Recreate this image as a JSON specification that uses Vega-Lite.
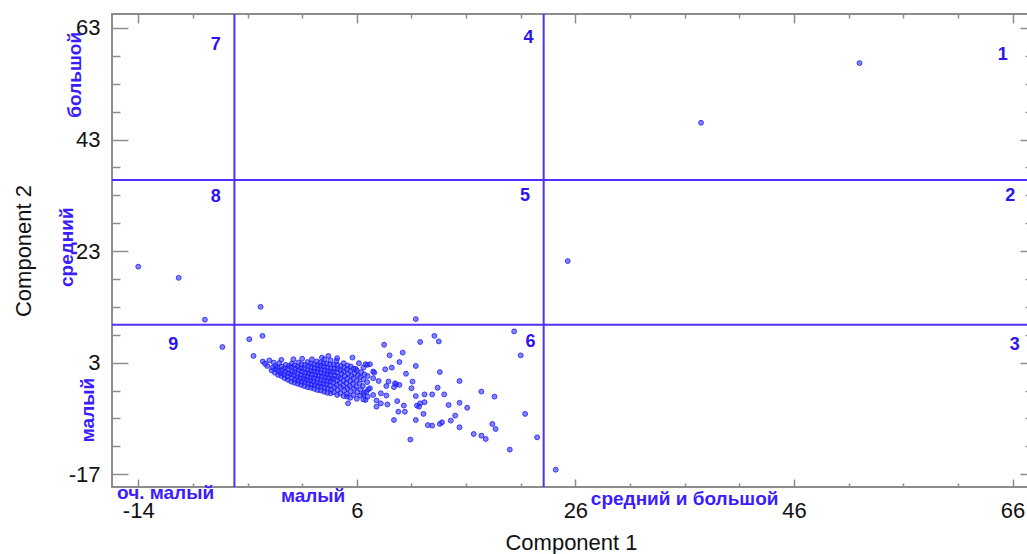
{
 "$schema": "https://vega.github.io/schema/vega-lite/v6.json",
 "width": 918,
 "height": 473,
 "autosize": {"type": "none"},
 "padding": {"left": 112, "top": 14, "right": 0, "bottom": 67},
 "background": "white",
 "config": {"view": {"stroke": "#8c8c8c", "strokeWidth": 2}, "font": "Liberation Sans"},
 "datasets": {
  "pts": [
   {"c1":-14.0,"c2":20.2},{"c1":-10.3,"c2":18.2},{"c1":-7.9,"c2":10.7},{"c1":-6.3,"c2":5.8},{"c1":-2.8,"c2":13.0},{"c1":11.4,"c2":10.8},{"c1":25.3,"c2":21.2},{"c1":37.5,"c2":46.0},{"c1":52.0,"c2":56.7},{"c1":24.2,"c2":-16.2},
   {"c1":-3.84,"c2":7.2},{"c1":-2.63,"c2":7.8},{"c1":-3.45,"c2":4.2},{"c1":8.5,"c2":6.2},{"c1":11.8,"c2":6.7},{"c1":13.1,"c2":7.8},{"c1":13.5,"c2":6.8},{"c1":20.4,"c2":8.6},{"c1":21.0,"c2":4.3},{"c1":9.0,"c2":4.3},{"c1":10.2,"c2":4.8},{"c1":5.6,"c2":3.9},{"c1":3.4,"c2":4.2},{"c1":9.9,"c2":3.1},{"c1":11.4,"c2":2.4},{"c1":8.6,"c2":1.8},{"c1":9.2,"c2":2.1},{"c1":10.5,"c2":1.0},{"c1":13.6,"c2":1.3},{"c1":15.4,"c2":-0.3},{"c1":11.1,"c2":-0.4},{"c1":11.0,"c2":-1.6},{"c1":13.4,"c2":-1.5},{"c1":12.2,"c2":-2.7},{"c1":12.9,"c2":-2.7},{"c1":14.0,"c2":-2.7},{"c1":17.4,"c2":-2.2},{"c1":18.6,"c2":-3.1},{"c1":11.4,"c2":-3.0},{"c1":14.4,"c2":-4.6},{"c1":15.4,"c2":-4.2},{"c1":16.1,"c2":-5.1},{"c1":21.4,"c2":-6.2},{"c1":22.5,"c2":-10.4},{"c1":20.0,"c2":-12.6},{"c1":10.9,"c2":-10.8},{"c1":9.4,"c2":-7.3},{"c1":11.4,"c2":-7.3},{"c1":12.5,"c2":-8.2},{"c1":13.6,"c2":-8.0},{"c1":14.6,"c2":-7.4},{"c1":15.0,"c2":-6.5},{"c1":15.4,"c2":-8.6},{"c1":16.7,"c2":-9.8},{"c1":17.4,"c2":-10.1},{"c1":17.8,"c2":-10.7},{"c1":18.4,"c2":-8.0},{"c1":18.7,"c2":-8.9},{"c1":11.5,"c2":-4.7},{"c1":10.3,"c2":-4.7},{"c1":9.8,"c2":-5.8},{"c1":11.7,"c2":-4.9},{"c1":9.7,"c2":-3.9},{"c1":8.8,"c2":-4.5},{"c1":8.2,"c2":-4.3},{"c1":7.8,"c2":-3.8},{"c1":7.5,"c2":-2.8},{"c1":6.6,"c2":-2.7},{"c1":6.8,"c2":-3.7},{"c1":5.2,"c2":-4.3},{"c1":5.1,"c2":-3.1},{"c1":8.7,"c2":-1.2},{"c1":9.6,"c2":-0.9},{"c1":8.9,"c2":-0.4},{"c1":8.0,"c2":-0.3},{"c1":7.6,"c2":1.2},{"c1":6.96,"c2":2.6},{"c1":5.9,"c2":1.9},
   {"c1":6.8,"c2":2.7},{"c1":7.2,"c2":2.7},{"c1":6.6,"c2":2.1},{"c1":7.5,"c2":1.4},{"c1":7.5,"c2":0.2},{"c1":9.5,"c2":-0.7},{"c1":9.9,"c2":-1.0},{"c1":9.4,"c2":-1.4},{"c1":8.2,"c2":-2.5},{"c1":8.7,"c2":-2.9},{"c1":6.9,"c2":-2.2},{"c1":7.2,"c2":-1.6},{"c1":7.8,"c2":-4.9},{"c1":10.4,"c2":-5.8},{"c1":12.1,"c2":-6.2},{"c1":11.8,"c2":-4.3},{"c1":12.2,"c2":-4.1},{"c1":13.8,"c2":-7.7},{"c1":12.9,"c2":-8.3},
   {"c1":-2.6,"c2":3.2},{"c1":-2.0,"c2":3.4},{"c1":-1.6,"c2":3.0},{"c1":-0.9,"c2":3.5},{"c1":0.2,"c2":3.6},{"c1":1.0,"c2":3.7},{"c1":1.9,"c2":3.6},{"c1":2.8,"c2":3.9},{"c1":4.2,"c2":3.8},{"c1":6.2,"c2":2.9},{"c1":-2.2,"c2":2.4},{"c1":-2.4,"c2":2.8},
   {"c1":-1.8,"c2":1.6},{"c1":-1.7,"c2":2.1},{"c1":-1.5,"c2":1.2},{"c1":-1.4,"c2":1.8},{"c1":-1.45,"c2":2.4},{"c1":-1.2,"c2":0.8},{"c1":-1.15,"c2":1.5},{"c1":-1.25,"c2":2.1},{"c1":-1.1,"c2":2.9},{"c1":-0.9,"c2":0.6},{"c1":-0.95,"c2":1.1},{"c1":-0.85,"c2":1.7},{"c1":-0.9,"c2":2.3},{"c1":-0.6,"c2":0.2},{"c1":-0.65,"c2":0.9},{"c1":-0.55,"c2":1.4},{"c1":-0.6,"c2":2.0},{"c1":-0.5,"c2":2.6},{"c1":-0.3,"c2":-0.1},{"c1":-0.35,"c2":0.5},{"c1":-0.25,"c2":1.1},{"c1":-0.3,"c2":1.8},{"c1":-0.2,"c2":2.4},{"c1":0.0,"c2":-0.4},{"c1":0.05,"c2":0.3},{"c1":-0.05,"c2":0.9},{"c1":0.1,"c2":1.5},{"c1":0.0,"c2":2.2},{"c1":0.05,"c2":2.8},{"c1":0.3,"c2":-0.6},{"c1":0.35,"c2":0.0},{"c1":0.25,"c2":0.7},{"c1":0.3,"c2":1.3},{"c1":0.4,"c2":1.9},{"c1":0.3,"c2":2.5},{"c1":0.6,"c2":-0.8},{"c1":0.65,"c2":-0.2},{"c1":0.55,"c2":0.4},{"c1":0.6,"c2":1.0},{"c1":0.7,"c2":1.7},{"c1":0.6,"c2":2.3},{"c1":0.65,"c2":3.0},{"c1":0.9,"c2":-1.0},{"c1":0.95,"c2":-0.4},{"c1":0.85,"c2":0.2},{"c1":0.9,"c2":0.8},{"c1":1.0,"c2":1.4},{"c1":0.9,"c2":2.0},{"c1":0.95,"c2":2.7},{"c1":1.2,"c2":-1.2},{"c1":1.25,"c2":-0.5},{"c1":1.15,"c2":0.1},{"c1":1.2,"c2":0.6},{"c1":1.3,"c2":1.2},{"c1":1.2,"c2":1.9},{"c1":1.25,"c2":2.6},{"c1":1.5,"c2":-1.4},{"c1":1.55,"c2":-0.7},{"c1":1.45,"c2":-0.1},{"c1":1.5,"c2":0.5},{"c1":1.6,"c2":1.1},{"c1":1.5,"c2":1.7},{"c1":1.55,"c2":2.4},{"c1":1.5,"c2":3.1},{"c1":1.8,"c2":-1.5},{"c1":1.85,"c2":-0.9},{"c1":1.75,"c2":-0.2},{"c1":1.8,"c2":0.3},{"c1":1.9,"c2":0.9},{"c1":1.8,"c2":1.5},{"c1":1.85,"c2":2.2},{"c1":1.8,"c2":2.8},{"c1":2.1,"c2":-1.7},{"c1":2.15,"c2":-1.0},{"c1":2.05,"c2":-0.4},{"c1":2.1,"c2":0.2},{"c1":2.2,"c2":0.8},{"c1":2.1,"c2":1.4},{"c1":2.15,"c2":2.0},{"c1":2.1,"c2":2.7},{"c1":2.4,"c2":-1.9},{"c1":2.45,"c2":-1.2},{"c1":2.35,"c2":-0.6},{"c1":2.4,"c2":0.1},{"c1":2.5,"c2":0.7},{"c1":2.4,"c2":1.3},{"c1":2.45,"c2":1.9},{"c1":2.4,"c2":2.5},{"c1":2.35,"c2":3.2},{"c1":2.7,"c2":-2.0},{"c1":2.75,"c2":-1.3},{"c1":2.65,"c2":-0.7},{"c1":2.7,"c2":-0.1},{"c1":2.8,"c2":0.5},{"c1":2.7,"c2":1.2},{"c1":2.75,"c2":1.8},{"c1":2.7,"c2":2.4},{"c1":2.65,"c2":3.0},{"c1":3.0,"c2":-2.2},{"c1":3.05,"c2":-1.5},{"c1":2.95,"c2":-0.8},{"c1":3.0,"c2":-0.2},{"c1":3.1,"c2":0.4},{"c1":3.0,"c2":1.0},{"c1":3.05,"c2":1.6},{"c1":3.0,"c2":2.3},{"c1":2.95,"c2":2.9},{"c1":3.05,"c2":3.6},{"c1":3.3,"c2":-2.4},{"c1":3.35,"c2":-1.6},{"c1":3.25,"c2":-0.9},{"c1":3.3,"c2":-0.3},{"c1":3.4,"c2":0.3},{"c1":3.3,"c2":0.9},{"c1":3.35,"c2":1.5},{"c1":3.3,"c2":2.1},{"c1":3.25,"c2":2.8},{"c1":3.6,"c2":-2.5},{"c1":3.65,"c2":-1.8},{"c1":3.55,"c2":-1.1},{"c1":3.6,"c2":-0.4},{"c1":3.7,"c2":0.2},{"c1":3.6,"c2":0.8},{"c1":3.65,"c2":1.4},{"c1":3.6,"c2":2.0},{"c1":3.55,"c2":2.7},{"c1":3.6,"c2":3.4},{"c1":3.9,"c2":-2.3},{"c1":3.95,"c2":-1.4},{"c1":3.85,"c2":-0.6},{"c1":3.9,"c2":0.1},{"c1":4.0,"c2":0.7},{"c1":3.9,"c2":1.3},{"c1":3.95,"c2":2.0},{"c1":3.9,"c2":2.6},{"c1":4.2,"c2":-2.8},{"c1":4.25,"c2":-1.9},{"c1":4.15,"c2":-1.0},{"c1":4.2,"c2":-0.2},{"c1":4.3,"c2":0.5},{"c1":4.2,"c2":1.2},{"c1":4.25,"c2":1.9},{"c1":4.2,"c2":2.6},{"c1":4.15,"c2":3.3},{"c1":4.5,"c2":-2.5},{"c1":4.55,"c2":-1.5},{"c1":4.45,"c2":-0.6},{"c1":4.5,"c2":0.2},{"c1":4.6,"c2":1.0},{"c1":4.5,"c2":1.7},{"c1":4.55,"c2":2.4},{"c1":4.8,"c2":-3.0},{"c1":4.85,"c2":-2.0},{"c1":4.75,"c2":-1.1},{"c1":4.8,"c2":-0.2},{"c1":4.9,"c2":0.6},{"c1":4.8,"c2":1.4},{"c1":4.85,"c2":2.1},{"c1":4.8,"c2":2.9},{"c1":5.1,"c2":-2.6},{"c1":5.15,"c2":-1.6},{"c1":5.05,"c2":-0.7},{"c1":5.1,"c2":0.1},{"c1":5.2,"c2":1.0},{"c1":5.1,"c2":1.8},{"c1":5.15,"c2":2.5},{"c1":5.4,"c2":-3.3},{"c1":5.45,"c2":-2.2},{"c1":5.35,"c2":-1.2},{"c1":5.4,"c2":-0.3},{"c1":5.5,"c2":0.6},{"c1":5.4,"c2":1.5},{"c1":5.45,"c2":2.3},{"c1":5.7,"c2":-2.8},{"c1":5.75,"c2":-1.7},{"c1":5.65,"c2":-0.8},{"c1":5.7,"c2":0.2},{"c1":5.8,"c2":1.1},{"c1":5.7,"c2":1.9},{"c1":6.0,"c2":-3.5},{"c1":6.05,"c2":-2.3},{"c1":5.95,"c2":-1.3},{"c1":6.0,"c2":-0.3},{"c1":6.1,"c2":0.7},{"c1":6.0,"c2":1.6},{"c1":6.3,"c2":-2.9},{"c1":6.35,"c2":-1.8},{"c1":6.25,"c2":-0.7},{"c1":6.3,"c2":0.4},{"c1":6.4,"c2":1.3},{"c1":6.6,"c2":-3.6},{"c1":6.65,"c2":-2.4},{"c1":6.55,"c2":-1.2},{"c1":6.6,"c2":0.0},{"c1":6.7,"c2":0.9},{"c1":7.0,"c2":-3.1},{"c1":7.05,"c2":-1.8},{"c1":6.95,"c2":-0.5},{"c1":7.0,"c2":0.6}
  ],
  "vlines": [{"v": -5.2}, {"v": 23.1}],
  "hlines": [{"h": 35.75}, {"h": 9.77}],
  "quads": [
   {"c1":-6.9,"c2":59.9,"n":"7"},{"c1":21.7,"c2":61.2,"n":"4"},{"c1":65.1,"c2":58.2,"n":"1"},
   {"c1":-6.9,"c2":32.7,"n":"8"},{"c1":21.4,"c2":32.9,"n":"5"},{"c1":65.8,"c2":32.9,"n":"2"},
   {"c1":-10.8,"c2":6.2,"n":"9"},{"c1":21.9,"c2":6.7,"n":"6"},{"c1":66.2,"c2":6.2,"n":"3"}
  ],
  "sideV": [
   {"c1":-19.8,"c2":54.6,"t":"большой"},{"c1":-20.5,"c2":23.7,"t":"средний"},{"c1":-18.6,"c2":-5.5,"t":"малый"}
  ],
  "sideH": [
   {"c1":-11.5,"c2":-20.4,"t":"оч. малый"},{"c1":2.0,"c2":-21.0,"t":"малый"},{"c1":36.0,"c2":-21.5,"t":"средний и большой"}
  ]
 },
 "layer": [
  {
   "data": {"name": "pts"},
   "mark": {"type": "point", "filled": true, "size": 24, "color": "#3030ff", "fillOpacity": 0.6, "stroke": "#1a1aff", "strokeWidth": 0.9, "strokeOpacity": 0.9},
   "encoding": {
    "x": {"field": "c1", "type": "quantitative",
     "scale": {"domain": [-16.4, 67.6], "nice": false, "zero": false},
     "axis": {"orient": "bottom", "values": [-14,-9,-4,1,6,11,16,21,26,31,36,41,46,51,56,61,66],
      "labelExpr": "(datum.value + 14) % 20 == 0 ? replace(datum.label, '−', '-') : ''",
      "tickSize": {"condition": {"test": "(datum.value + 14) % 20 == 0", "value": -8}, "value": -4},
      "tickColor": "#8c8c8c", "tickWidth": 1.5, "domain": false, "grid": false,
      "labelFont": "Liberation Sans", "labelFontSize": 22, "labelColor": "#111", "labelPadding": 21,
      "labelFlush": false, "labelOverlap": false,
      "title": "Component 1", "titleFont": "Liberation Sans", "titleFontSize": 22, "titleFontWeight": "normal", "titleColor": "#111", "titlePadding": 7}},
    "y": {"field": "c2", "type": "quantitative",
     "scale": {"domain": [-19.3, 65.5], "nice": false, "zero": false},
     "axis": {"orient": "left", "values": [-17,-12,-7,-2,3,8,13,18,23,28,33,38,43,48,53,58,63],
      "labelExpr": "(datum.value + 17) % 20 == 0 ? replace(datum.label, '−', '-') : ''",
      "tickSize": {"condition": {"test": "(datum.value + 17) % 20 == 0", "value": -16}, "value": -8},
      "tickColor": "#8c8c8c", "tickWidth": 1.5, "domain": false, "grid": false,
      "labelFont": "Liberation Sans", "labelFontSize": 22, "labelColor": "#111", "labelPadding": 28,
      "labelFlush": false, "labelOverlap": false,
      "title": "Component 2", "titleFont": "Liberation Sans", "titleFontSize": 22, "titleFontWeight": "normal", "titleColor": "#111", "titlePadding": 33}}
   }
  },
  {
   "data": {"name": "vlines"},
   "mark": {"type": "rule", "color": "#5030ff", "strokeWidth": 2},
   "encoding": {"x": {"field": "v", "type": "quantitative", "axis": null}}
  },
  {
   "data": {"name": "hlines"},
   "mark": {"type": "rule", "color": "#5030ff", "strokeWidth": 2},
   "encoding": {"y": {"field": "h", "type": "quantitative", "axis": null}}
  },
  {
   "data": {"name": "quads"},
   "mark": {"type": "text", "color": "#2e14ee", "fontWeight": "bold", "fontSize": 18, "font": "Liberation Sans", "align": "center", "baseline": "middle"},
   "encoding": {
    "x": {"field": "c1", "type": "quantitative",
     "axis": {"orient": "top", "values": [-14,-9,-4,1,6,11,16,21,26,31,36,41,46,51,56,61,66], "labels": false,
      "tickSize": {"condition": {"test": "(datum.value + 14) % 20 == 0", "value": -9}, "value": -4},
      "tickColor": "#8c8c8c", "tickWidth": 1.5, "domain": false, "grid": false, "title": null}},
    "y": {"field": "c2", "type": "quantitative",
     "axis": {"orient": "right", "values": [-17,-12,-7,-2,3,8,13,18,23,28,33,38,43,48,53,58,63], "labels": false,
      "tickSize": {"condition": {"test": "(datum.value + 17) % 20 == 0", "value": -10}, "value": -5},
      "tickColor": "#8c8c8c", "tickWidth": 1.5, "domain": false, "grid": false, "title": null}},
    "text": {"field": "n"}
   }
  },
  {
   "data": {"name": "sideV"},
   "mark": {"type": "text", "color": "#3a1cff", "fontWeight": "bold", "fontSize": 19, "font": "Liberation Sans", "angle": 270, "align": "center", "baseline": "middle"},
   "encoding": {
    "x": {"field": "c1", "type": "quantitative", "axis": null},
    "y": {"field": "c2", "type": "quantitative", "axis": null},
    "text": {"field": "t"}
   }
  },
  {
   "data": {"name": "sideH"},
   "mark": {"type": "text", "color": "#3a1cff", "fontWeight": "bold", "fontSize": 19, "font": "Liberation Sans", "align": "center", "baseline": "middle"},
   "encoding": {
    "x": {"field": "c1", "type": "quantitative", "axis": null},
    "y": {"field": "c2", "type": "quantitative", "axis": null},
    "text": {"field": "t"}
   }
  }
 ],
 "resolve": {"axis": {"x": "independent", "y": "independent"}}
}
